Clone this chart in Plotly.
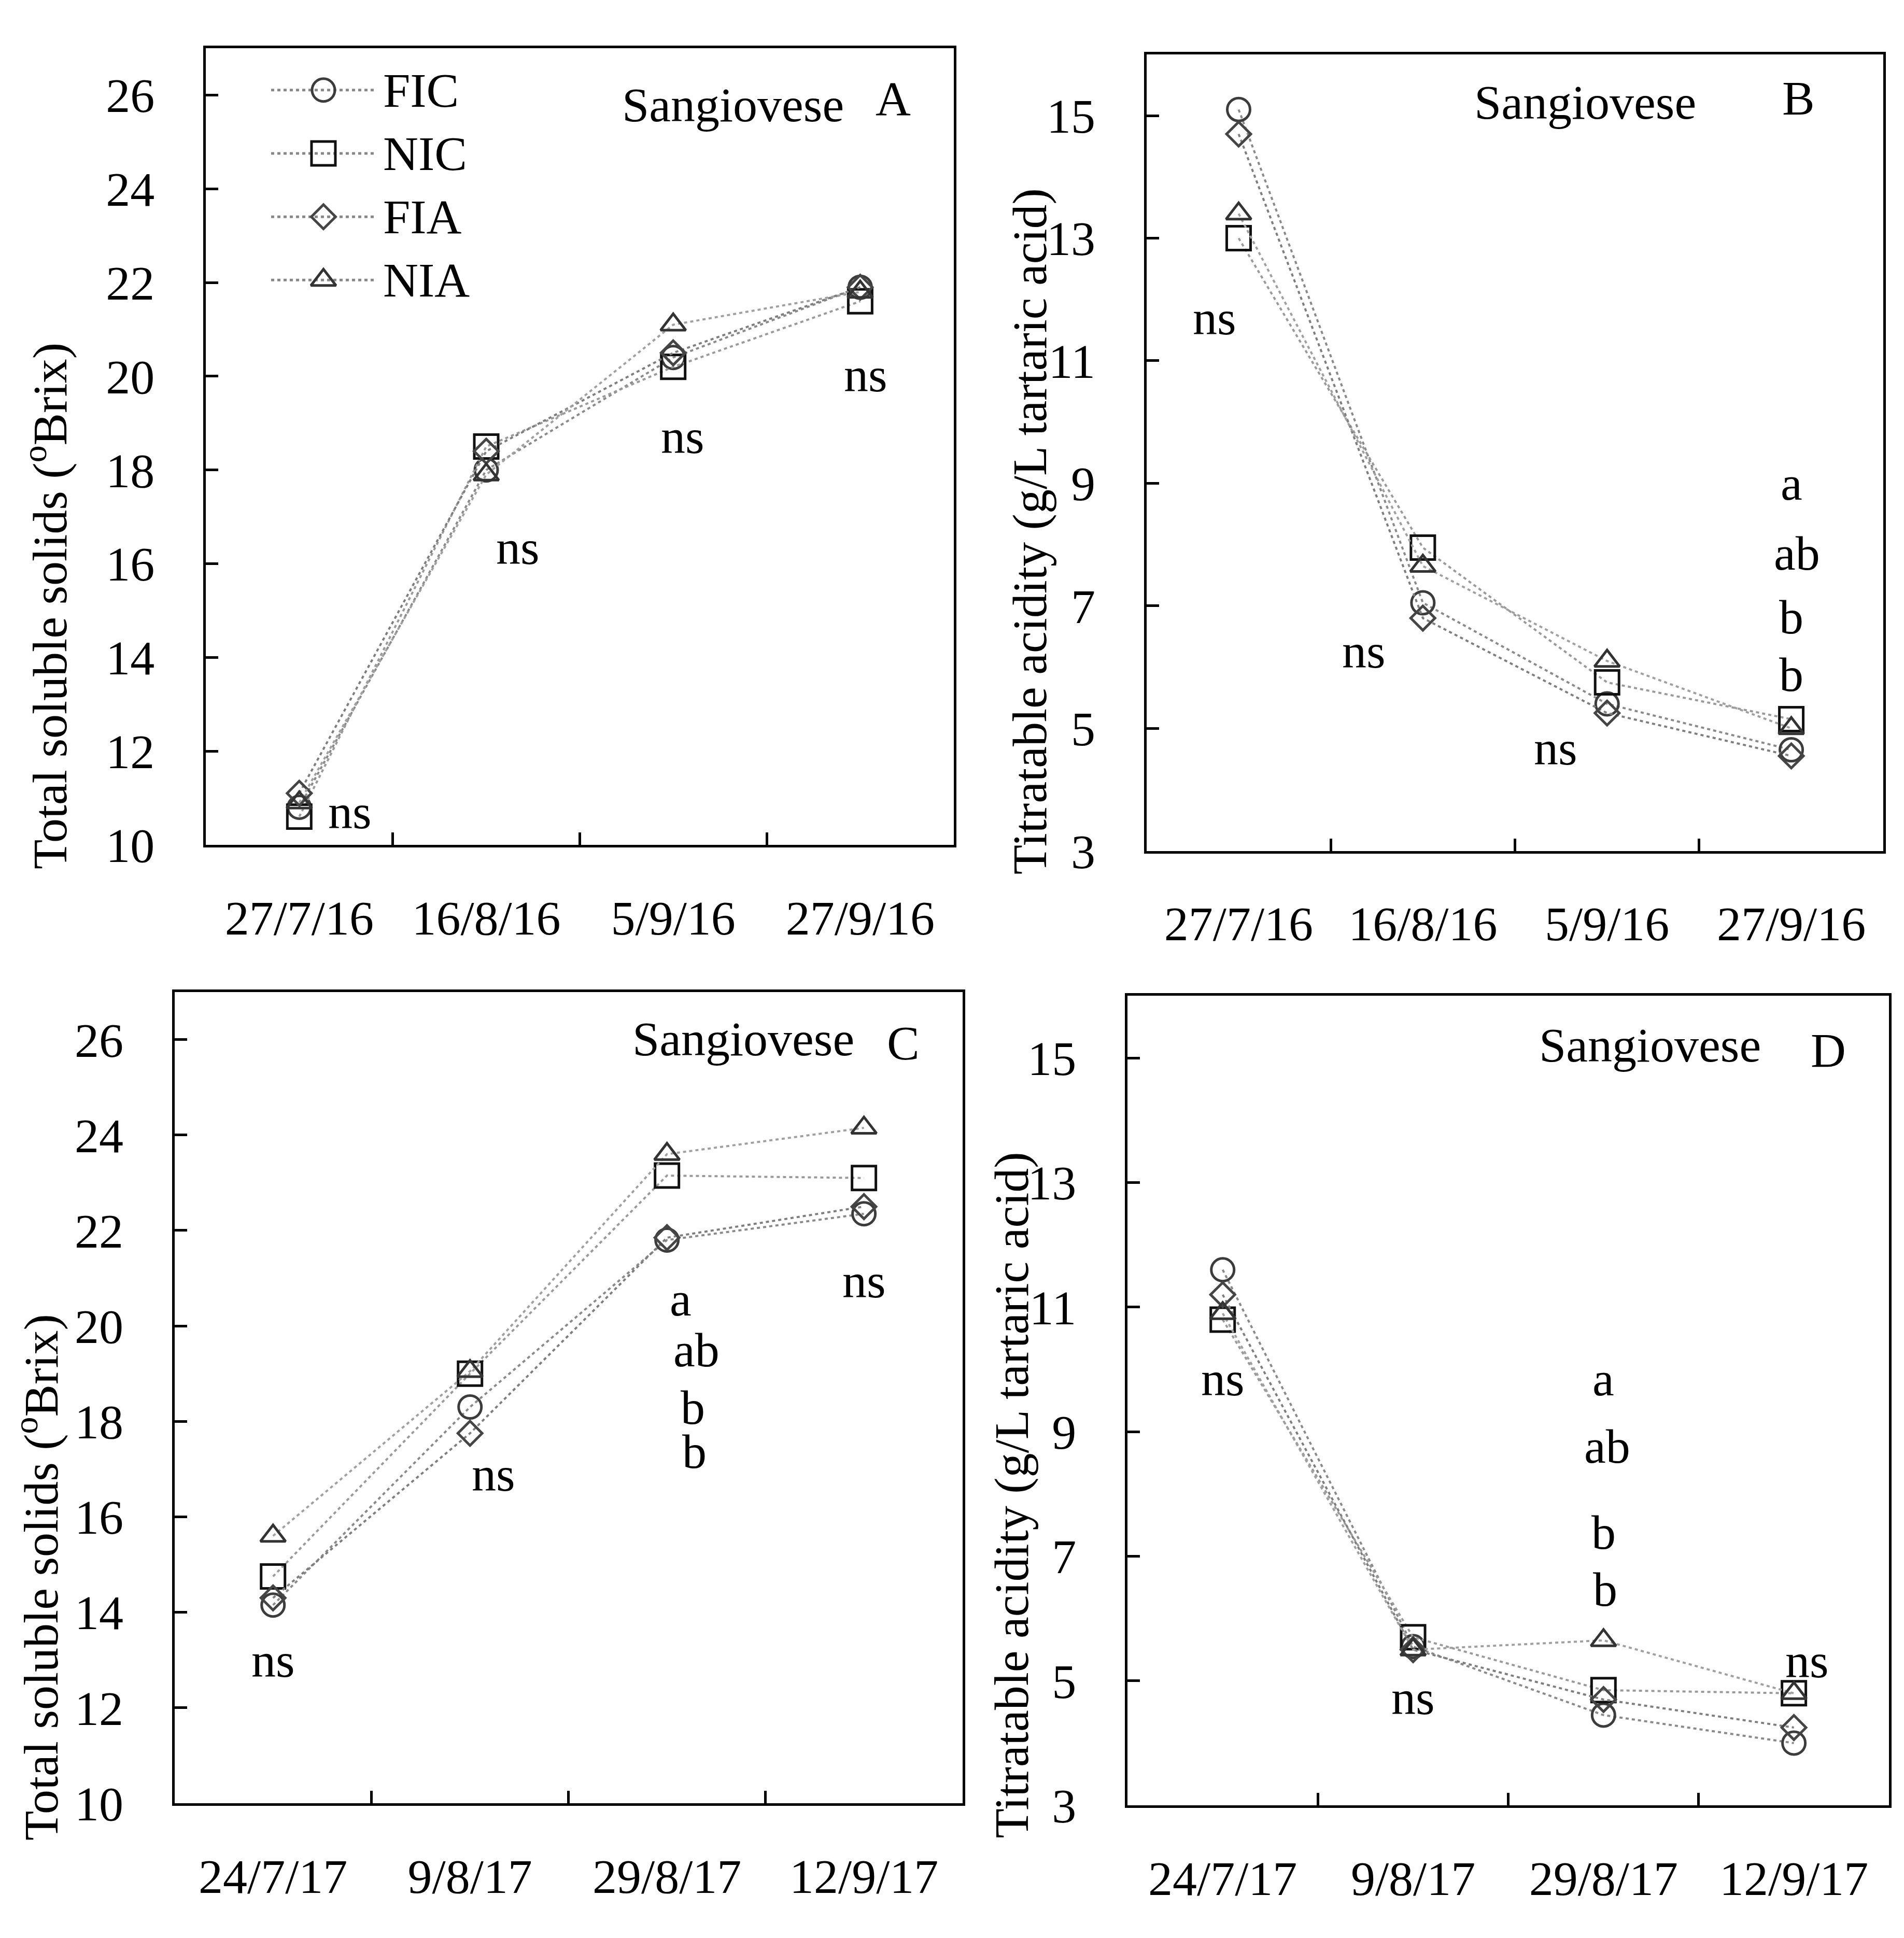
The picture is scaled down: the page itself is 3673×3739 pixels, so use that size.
import plotly.graph_objects as go

# categories
dates16 = ["27/7/16", "16/8/16", "5/9/16", "27/9/16"]
dates17 = ["24/7/17", "9/8/17", "29/8/17", "12/9/17"]
treatments = ["FIC", "NIC", "FIA", "NIA"]

# total soluble solids (°Brix), 2016
tss16_fic = [10.8, 18.0, 20.4, 21.9]
tss16_nic = [10.6, 18.5, 20.2, 21.6]
tss16_fia = [11.1, 18.4, 20.5, 21.9]
tss16_nia = [10.9, 17.9, 21.1, 21.8]

# titratable acidity (g/L), 2016
ta16_fic = [15.1, 7.05, 5.4, 4.65]
ta16_nic = [13.0, 7.95, 5.75, 5.15]
ta16_fia = [14.7, 6.8, 5.25, 4.55]
ta16_nia = [13.4, 7.65, 6.1, 5.0]

# total soluble solids (°Brix), 2017
tss17_fic = [14.15, 18.3, 21.8, 22.35]
tss17_nic = [14.75, 19.0, 23.15, 23.1]
tss17_fia = [14.3, 17.75, 21.85, 22.5]
tss17_nia = [15.6, 19.05, 23.6, 24.15]

# titratable acidity (g/L), 2017
ta17_fic = [11.6, 5.55, 4.45, 4.0]
ta17_nic = [10.8, 5.7, 4.85, 4.8]
ta17_fia = [11.2, 5.5, 4.7, 4.25]
ta17_nia = [10.9, 5.5, 5.65, 4.8]

# significance labels: (x index, y, text)
sig_a = [(0.27, 10.71, "ns"), (1.17, 16.35, "ns"), (2.05, 18.72, "ns"), (3.03, 20.03, "ns")]
sig_b = [(-0.13, 11.7, "ns"), (0.68, 6.26, "ns"), (1.72, 4.68, "ns"),
         (3.0, 9.0, "a"), (3.03, 7.86, "ab"), (3.0, 6.82, "b"), (3.0, 5.88, "b")]
sig_c = [(0.0, 13.0, "ns"), (1.12, 16.9, "ns"), (2.07, 20.57, "a"), (2.15, 19.5, "ab"),
         (2.13, 18.3, "b"), (2.14, 17.37, "b"), (3.0, 20.95, "ns")]
sig_d = [(0.0, 9.85, "ns"), (1.0, 4.73, "ns"), (2.0, 9.85, "a"), (2.02, 8.77, "ab"),
         (2.0, 7.39, "b"), (2.01, 6.47, "b"), (3.07, 5.32, "ns")]

FONT = "Liberation Serif"
FS = 94

symbols = {"FIC": "circle-open", "NIC": "square-open", "FIA": "diamond-open", "NIA": "triangle-up-open"}
msize = {"FIC": 44, "NIC": 46, "FIA": 36, "NIA": 42}
mcolor = {"FIC": "#3c3c3c", "NIC": "#111111", "FIA": "#454545", "NIA": "#333333"}
lcolor = {"FIC": "#8a8a8a", "NIC": "#9a9a9a", "FIA": "#7e7e7e", "NIA": "#a0a0a0"}

panels = [
    ("x", "y", dates16, [tss16_fic, tss16_nic, tss16_fia, tss16_nia], sig_a),
    ("x2", "y2", dates16, [ta16_fic, ta16_nic, ta16_fia, ta16_nia], sig_b),
    ("x3", "y3", dates17, [tss17_fic, tss17_nic, tss17_fia, tss17_nia], sig_c),
    ("x4", "y4", dates17, [ta17_fic, ta17_nic, ta17_fia, ta17_nia], sig_d),
]

fig = go.Figure()
annotations = []

for xa, ya, cats, series, sig in panels:
    for name, vals in zip(treatments, series):
        fig.add_trace(go.Scatter(
            x=cats, y=vals, xaxis=xa, yaxis=ya, name=name, showlegend=False,
            mode="lines+markers",
            line=dict(color=lcolor[name], width=4, dash="6px,6px"),
            marker=dict(symbol=symbols[name], size=msize[name], color=mcolor[name],
                        line=dict(width=5, color=mcolor[name])),
        ))
    for sx, sy, txt in sig:
        annotations.append(dict(x=sx, y=sy, xref=xa, yref=ya, text=txt, showarrow=False,
                                xanchor="center", yanchor="middle",
                                font=dict(family=FONT, size=FS, color="black")))

# legend drawn inside panel A on a bare axis pair (line 0..1, label at 1.06)
for i, name in enumerate(treatments):
    fig.add_trace(go.Scatter(
        x=[0, 1], y=[i, i], xaxis="x5", yaxis="y5", mode="lines", showlegend=False,
        line=dict(color="#888888", width=5, dash="6px,6px"), hoverinfo="skip"))
    fig.add_trace(go.Scatter(
        x=[0.5], y=[i], xaxis="x5", yaxis="y5", mode="markers", showlegend=False,
        marker=dict(symbol=symbols[name], size=msize[name], color=mcolor[name],
                    line=dict(width=5, color=mcolor[name])), hoverinfo="skip"))
    annotations.append(dict(x=1.06, y=i, xref="x5", yref="y5", text=name, showarrow=False,
                            xanchor="left", yanchor="middle",
                            font=dict(family=FONT, size=FS, color="black")))

# panel labels (axis-domain coords)
labels = [
    ("x", "y", 0.705, 0.929, 0.919, 0.937, "A"),
    ("x2", "y2", 0.595, 0.94, 0.885, 0.945, "B"),
    ("x3", "y3", 0.722, 0.9425, 0.925, 0.937, "C"),
    ("x4", "y4", 0.686, 0.939, 0.92, 0.933, "D"),
]
for xa, ya, sx, sy, lx, ly, letter in labels:
    annotations.append(dict(x=sx, y=sy, xref=xa + " domain", yref=ya + " domain", text="Sangiovese",
                            showarrow=False, xanchor="center", yanchor="middle",
                            font=dict(family=FONT, size=FS, color="black")))
    annotations.append(dict(x=lx, y=ly, xref=xa + " domain", yref=ya + " domain", text=letter,
                            showarrow=False, xanchor="center", yanchor="middle",
                            font=dict(family=FONT, size=FS, color="black")))

# y axis titles
ytitles = [
    (0.0220, 0.685, "Total soluble solids (<sup>o</sup>Brix)"),
    (0.5385, 0.724, "Titratable acidity (g/L tartaric acid)"),
    (0.0174, 0.1766, "Total soluble solids (<sup>o</sup>Brix)"),
    (0.5291, 0.2197, "Titratable acidity (g/L tartaric acid)"),
]
for tx, ty, txt in ytitles:
    annotations.append(dict(x=tx, y=ty, xref="paper", yref="paper", text=txt, textangle=-90,
                            showarrow=False, xanchor="center", yanchor="middle",
                            font=dict(family=FONT, size=FS, color="black")))

xcommon = dict(type="category", showline=True, mirror=True, linecolor="black", linewidth=5,
               ticks="inside", tickson="boundaries", ticklen=24, tickwidth=5, tickcolor="black",
               showgrid=False, zeroline=False, ticklabelstandoff=55,
               tickfont=dict(family=FONT, size=FS, color="black"), range=[-0.5, 3.5])
ycommon = dict(showline=True, mirror=True, linecolor="black", linewidth=5,
               ticks="inside", ticklen=24, tickwidth=5, tickcolor="black",
               showgrid=False, zeroline=False, ticklabelstandoff=75,
               tickfont=dict(family=FONT, size=FS, color="black"))
bare = dict(showline=False, showgrid=False, zeroline=False, showticklabels=False, ticks="")

fig.update_layout(
    width=3673, height=3739,
    margin=dict(l=0, r=0, t=0, b=0),
    paper_bgcolor="white", plot_bgcolor="rgba(0,0,0,0)",
    xaxis=dict(xcommon, domain=[0.1059, 0.4987], anchor="y"),
    yaxis=dict(ycommon, domain=[0.560, 0.9769], anchor="x", range=[10, 27], tickvals=list(range(10, 27, 2))),
    xaxis2=dict(xcommon, domain=[0.600, 0.987], anchor="y2"),
    yaxis2=dict(ycommon, domain=[0.5568, 0.9737], anchor="x2", range=[3, 16], tickvals=list(range(3, 16, 2))),
    xaxis3=dict(xcommon, domain=[0.0895, 0.5033], anchor="y3"),
    yaxis3=dict(ycommon, domain=[0.0584, 0.483], anchor="x3", range=[10, 27], tickvals=list(range(10, 27, 2))),
    xaxis4=dict(xcommon, domain=[0.590, 0.990], anchor="y4"),
    yaxis4=dict(ycommon, domain=[0.0572, 0.481], anchor="x4", range=[3, 16], tickvals=list(range(3, 16, 2))),
    xaxis5=dict(bare, domain=[0.1402, 0.2282], range=[0, 1.6], anchor="y5"),
    yaxis5=dict(bare, domain=[0.839, 0.9716], range=[3.5, -0.5], anchor="x5"),
    annotations=annotations,
    showlegend=False,
)

fig.write_html("out.html")
